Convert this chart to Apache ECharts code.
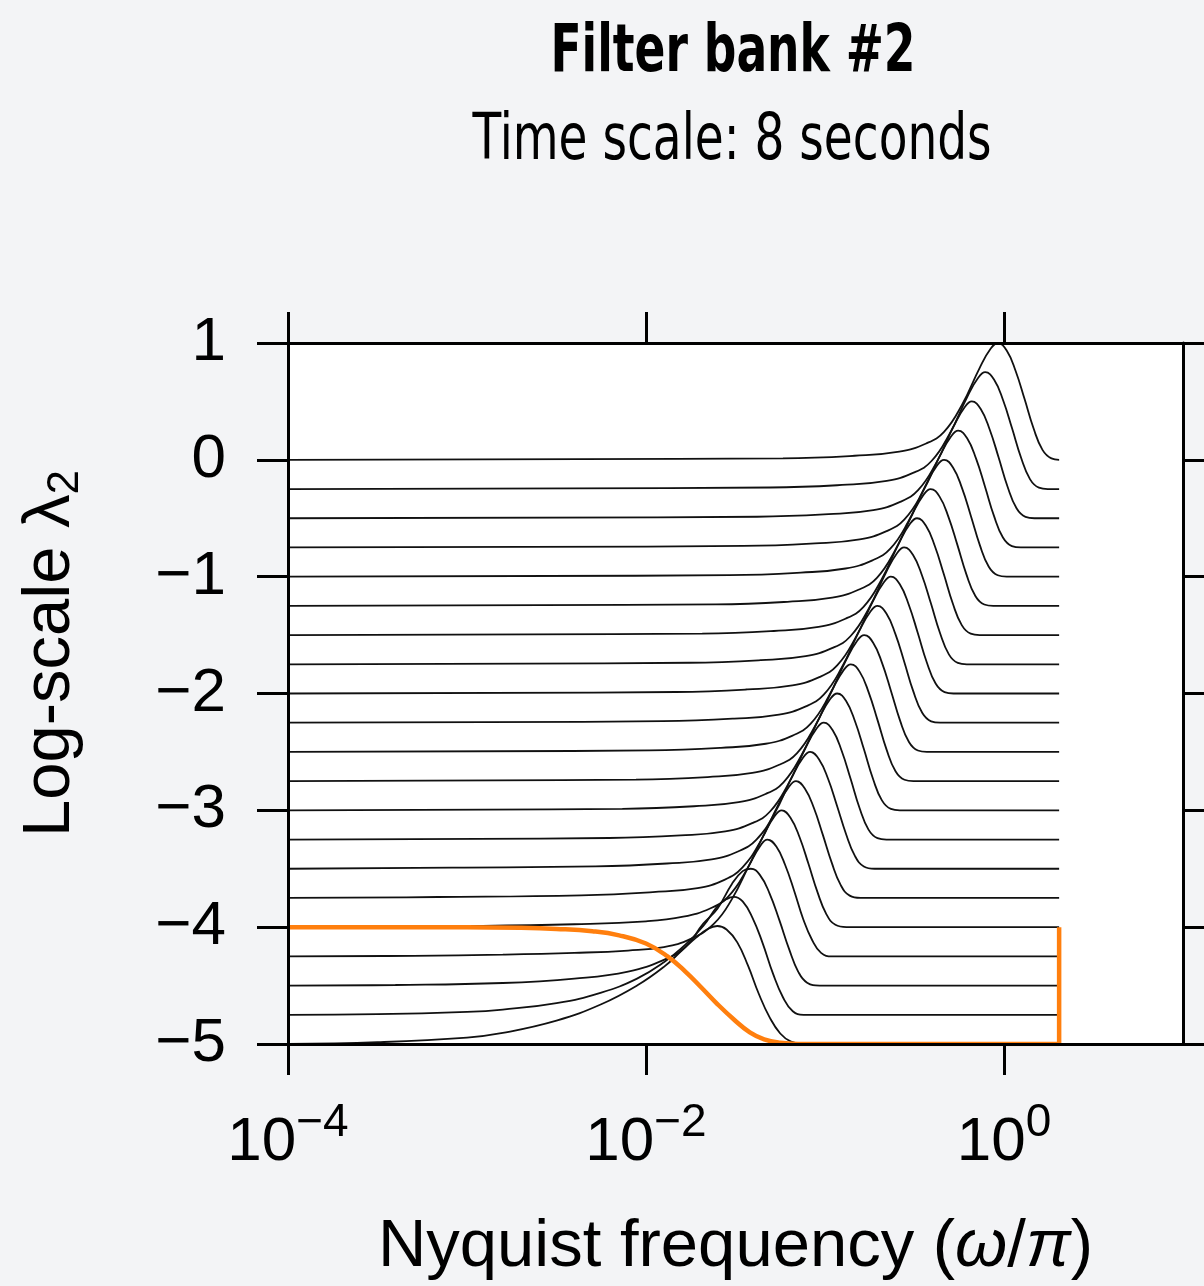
<!DOCTYPE html>
<html>
<head>
<meta charset="utf-8">
<script src="https://cdn.jsdelivr.net/npm/echarts@6/dist/echarts.min.js"></script>
<style>
  html, body { margin: 0; padding: 0; background: #f3f4f6; }
  #chart { width: 1204px; height: 1286px; }
</style>
</head>
<body>
<div id="chart"></div>
<script>
// points are [log10(ω/π), log-scale λ2]
const bank0 = [[-4,0],[-1.235,0.013],[-0.835,0.035],[-0.585,0.07],[-0.435,0.14],[-0.335,0.24],[-0.235,0.47],[-0.135,0.79],[-0.075,0.95],[-0.035,1],[0.015,0.935],[0.065,0.76],[0.115,0.52],[0.165,0.27],[0.215,0.085],[0.265,0.012],[0.308,0]];
const bank1 = [[-4,-0.25],[-1.305,-0.237],[-0.905,-0.215],[-0.655,-0.18],[-0.505,-0.11],[-0.405,-0.01],[-0.305,0.22],[-0.205,0.54],[-0.145,0.7],[-0.105,0.75],[-0.055,0.685],[-0.005,0.51],[0.045,0.27],[0.095,0.02],[0.145,-0.165],[0.195,-0.238],[0.245,-0.25],[0.308,-0.25]];
const bank2 = [[-4,-0.5],[-1.38,-0.487],[-0.98,-0.465],[-0.73,-0.43],[-0.58,-0.36],[-0.48,-0.26],[-0.38,-0.03],[-0.28,0.29],[-0.22,0.45],[-0.18,0.5],[-0.13,0.435],[-0.08,0.26],[-0.03,0.02],[0.02,-0.23],[0.07,-0.415],[0.12,-0.488],[0.17,-0.5],[0.308,-0.5]];
const bank3 = [[-4,-0.75],[-1.456,-0.737],[-1.056,-0.715],[-0.806,-0.68],[-0.656,-0.61],[-0.556,-0.51],[-0.456,-0.28],[-0.356,0.04],[-0.296,0.2],[-0.256,0.25],[-0.206,0.185],[-0.156,0.01],[-0.106,-0.23],[-0.056,-0.48],[-0.006,-0.665],[0.044,-0.738],[0.094,-0.75],[0.308,-0.75]];
const bank4 = [[-4,-1],[-1.535,-0.987],[-1.135,-0.965],[-0.885,-0.93],[-0.735,-0.86],[-0.635,-0.76],[-0.535,-0.53],[-0.435,-0.21],[-0.375,-0.05],[-0.335,0],[-0.285,-0.065],[-0.235,-0.24],[-0.185,-0.48],[-0.135,-0.73],[-0.085,-0.915],[-0.035,-0.988],[0.015,-1],[0.308,-1]];
const bank5 = [[-4,-1.25],[-1.61,-1.237],[-1.21,-1.215],[-0.96,-1.18],[-0.81,-1.11],[-0.71,-1.01],[-0.61,-0.78],[-0.51,-0.46],[-0.45,-0.3],[-0.41,-0.25],[-0.36,-0.315],[-0.31,-0.49],[-0.26,-0.73],[-0.21,-0.98],[-0.16,-1.165],[-0.11,-1.238],[-0.06,-1.25],[0.308,-1.25]];
const bank6 = [[-4,-1.5],[-1.686,-1.487],[-1.286,-1.465],[-1.036,-1.43],[-0.886,-1.36],[-0.786,-1.26],[-0.686,-1.03],[-0.586,-0.71],[-0.526,-0.55],[-0.486,-0.5],[-0.436,-0.565],[-0.386,-0.74],[-0.336,-0.98],[-0.286,-1.23],[-0.236,-1.415],[-0.186,-1.488],[-0.136,-1.5],[0.308,-1.5]];
const bank7 = [[-4,-1.75],[-1.758,-1.737],[-1.358,-1.715],[-1.108,-1.68],[-0.958,-1.61],[-0.858,-1.51],[-0.758,-1.28],[-0.658,-0.96],[-0.598,-0.8],[-0.558,-0.75],[-0.508,-0.815],[-0.458,-0.99],[-0.408,-1.23],[-0.358,-1.48],[-0.308,-1.665],[-0.258,-1.738],[-0.208,-1.75],[0.308,-1.75]];
const bank8 = [[-4,-2],[-1.832,-1.987],[-1.432,-1.965],[-1.182,-1.93],[-1.032,-1.86],[-0.932,-1.76],[-0.832,-1.53],[-0.732,-1.21],[-0.672,-1.05],[-0.632,-1],[-0.582,-1.065],[-0.532,-1.24],[-0.482,-1.48],[-0.432,-1.73],[-0.382,-1.915],[-0.332,-1.988],[-0.282,-2],[0.308,-2]];
const bank9 = [[-4,-2.25],[-1.907,-2.237],[-1.507,-2.215],[-1.257,-2.18],[-1.107,-2.11],[-1.007,-2.01],[-0.907,-1.78],[-0.807,-1.46],[-0.747,-1.3],[-0.707,-1.25],[-0.657,-1.315],[-0.607,-1.49],[-0.557,-1.73],[-0.507,-1.98],[-0.457,-2.165],[-0.407,-2.238],[-0.357,-2.25],[0.308,-2.25]];
const bank10 = [[-4,-2.5],[-1.981,-2.487],[-1.581,-2.465],[-1.331,-2.43],[-1.181,-2.36],[-1.081,-2.26],[-0.981,-2.03],[-0.881,-1.71],[-0.821,-1.55],[-0.781,-1.5],[-0.731,-1.565],[-0.681,-1.74],[-0.631,-1.98],[-0.581,-2.23],[-0.531,-2.415],[-0.481,-2.488],[-0.431,-2.5],[0.308,-2.5]];
const bank11 = [[-4,-2.75],[-2.056,-2.737],[-1.656,-2.715],[-1.406,-2.68],[-1.256,-2.61],[-1.156,-2.51],[-1.056,-2.28],[-0.956,-1.96],[-0.896,-1.8],[-0.856,-1.75],[-0.806,-1.815],[-0.756,-1.99],[-0.706,-2.23],[-0.656,-2.48],[-0.606,-2.665],[-0.556,-2.738],[-0.506,-2.75],[0.308,-2.75]];
const bank12 = [[-4,-3],[-2.132,-2.987],[-1.732,-2.965],[-1.482,-2.93],[-1.332,-2.86],[-1.232,-2.76],[-1.132,-2.53],[-1.032,-2.21],[-0.972,-2.05],[-0.932,-2],[-0.882,-2.065],[-0.832,-2.24],[-0.782,-2.48],[-0.732,-2.73],[-0.682,-2.915],[-0.632,-2.988],[-0.582,-3],[0.308,-3]];
const bank13 = [[-4,-3.25],[-2.207,-3.237],[-1.807,-3.215],[-1.557,-3.18],[-1.407,-3.11],[-1.307,-3.01],[-1.207,-2.78],[-1.107,-2.46],[-1.047,-2.3],[-1.007,-2.25],[-0.957,-2.315],[-0.907,-2.49],[-0.857,-2.73],[-0.807,-2.98],[-0.757,-3.165],[-0.707,-3.238],[-0.657,-3.25],[0.308,-3.25]];
const bank14 = [[-4,-3.5],[-3.083,-3.49],[-2.283,-3.48],[-1.883,-3.455],[-1.633,-3.42],[-1.483,-3.35],[-1.383,-3.25],[-1.283,-3.03],[-1.183,-2.71],[-1.123,-2.55],[-1.083,-2.5],[-1.033,-2.565],[-0.983,-2.73],[-0.933,-2.96],[-0.883,-3.2],[-0.833,-3.39],[-0.783,-3.48],[-0.723,-3.5],[0.308,-3.5]];
const bank15 = [[-4,-3.75],[-3.162,-3.742],[-2.362,-3.728],[-1.962,-3.7],[-1.712,-3.665],[-1.562,-3.595],[-1.462,-3.49],[-1.362,-3.27],[-1.262,-2.955],[-1.202,-2.8],[-1.162,-2.75],[-1.112,-2.815],[-1.062,-2.98],[-1.012,-3.21],[-0.962,-3.45],[-0.912,-3.64],[-0.862,-3.73],[-0.802,-3.75],[0.308,-3.75]];
const bank16 = [[-4,-4],[-3,-3.99],[-2.4,-3.975],[-2,-3.95],[-1.792,-3.91],[-1.642,-3.84],[-1.542,-3.74],[-1.442,-3.52],[-1.342,-3.21],[-1.282,-3.05],[-1.242,-3],[-1.192,-3.065],[-1.142,-3.23],[-1.092,-3.46],[-1.042,-3.7],[-0.992,-3.89],[-0.942,-3.98],[-0.88,-4],[0.308,-4]];
const bank17 = [[-4,-4.25],[-3.3,-4.245],[-2.8,-4.235],[-2.4,-4.22],[-2.1,-4.2],[-1.9,-4.17],[-1.75,-4.1],[-1.62,-3.97],[-1.52,-3.76],[-1.42,-3.46],[-1.36,-3.3],[-1.322,-3.25],[-1.272,-3.31],[-1.222,-3.47],[-1.172,-3.69],[-1.122,-3.93],[-1.072,-4.11],[-1.022,-4.22],[-0.96,-4.25],[0.308,-4.25]];
const bank18 = [[-4,-4.5],[-3.4,-4.495],[-2.8,-4.478],[-2.4,-4.44],[-2.1,-4.38],[-1.9,-4.28],[-1.78,-4.17],[-1.68,-3.97],[-1.6,-3.84],[-1.52,-3.63],[-1.46,-3.52],[-1.415,-3.5],[-1.365,-3.55],[-1.31,-3.71],[-1.255,-3.94],[-1.2,-4.19],[-1.15,-4.38],[-1.1,-4.475],[-1.03,-4.5],[0.308,-4.5]];
const bank19 = [[-4,-4.75],[-3.5,-4.745],[-3,-4.725],[-2.8,-4.705],[-2.5,-4.65],[-2.25,-4.56],[-2.05,-4.44],[-1.9,-4.3],[-1.78,-4.15],[-1.68,-3.99],[-1.6,-3.82],[-1.55,-3.76],[-1.509,-3.74],[-1.46,-3.78],[-1.405,-3.92],[-1.35,-4.13],[-1.29,-4.4],[-1.235,-4.6],[-1.18,-4.72],[-1.12,-4.75],[0.308,-4.75]];
const bank20 = [[-4,-5],[-3.5,-4.985],[-3,-4.945],[-2.8,-4.905],[-2.5,-4.8],[-2.25,-4.66],[-2.05,-4.5],[-1.9,-4.34],[-1.8,-4.2],[-1.72,-4.09],[-1.66,-4.02],[-1.602,-3.99],[-1.55,-4.02],[-1.49,-4.13],[-1.43,-4.33],[-1.37,-4.57],[-1.31,-4.77],[-1.25,-4.91],[-1.19,-4.98],[-1.12,-5],[0.308,-5]];

const orangeCurve = [[-4,-4],[-3,-4],[-2.7,-4.005],[-2.5,-4.015],[-2.3,-4.035],[-2.15,-4.07],[-2,-4.14],[-1.88,-4.25],[-1.78,-4.38],[-1.695,-4.51],[-1.6,-4.66],[-1.509,-4.79],[-1.42,-4.9],[-1.34,-4.96],[-1.25,-4.99],[-1.15,-5],[0.308,-5]];
const orangeEdge = [[0.308,-5],[0.308,-4]];

const blackCurves = [bank0, bank1, bank2, bank3, bank4, bank5, bank6, bank7, bank8, bank9, bank10,
  bank11, bank12, bank13, bank14, bank15, bank16, bank17, bank18, bank19, bank20];

const xTickExp = [-4, -2, 0];

const sans = '"Liberation Sans", Arial, Helvetica, sans-serif';
const titleFont = '"DejaVu Sans", sans-serif';

const toMinus = v => String(v).replace('-', '\u2212');

const axisLine = { show: true, onZero: false, lineStyle: { color: '#000', width: 3 } };
const tick = { show: true, length: 31, lineStyle: { color: '#000', width: 3 } };

let chart = echarts.init(document.getElementById('chart'));

let series = blackCurves.map((pts, i) => ({
  name: 'bank' + i,
  type: 'line',
  data: pts,
  showSymbol: false,
  smooth: 0.45,
  lineStyle: { color: '#111', width: 1.8 },
  z: 2
}));

series.push({
  name: 'orange',
  type: 'line',
  data: orangeCurve,
  showSymbol: false,
  smooth: 0.45,
  lineStyle: { color: '#ff7f0e', width: 4.5 },
  z: 3
});
series.push({
  name: 'orangeEdge',
  type: 'line',
  data: orangeEdge,
  showSymbol: false,
  lineStyle: { color: '#ff7f0e', width: 4.5 },
  z: 3
});

chart.setOption({
  animation: false,
  backgroundColor: '#f3f4f6',
  graphic: [{
    type: 'text',
    x: 733, y: 21,
    scaleX: 0.69,
    style: {
      text: 'Filter bank #2',
      fontFamily: titleFont, fontSize: 66, fontWeight: 'bold',
      fill: '#000', align: 'center', verticalAlign: 'top'
    }
  }, {
    type: 'text',
    x: 732, y: 110,
    scaleX: 0.735,
    style: {
      text: 'Time scale: 8 seconds',
      fontFamily: titleFont, fontSize: 64,
      fill: '#000', align: 'center', verticalAlign: 'top'
    }
  }],
  grid: {
    left: 288, right: 21, top: 343, bottom: 240,
    show: true, backgroundColor: '#ffffff', borderWidth: 0
  },
  xAxis: [{
    type: 'value',
    position: 'bottom',
    min: -4, max: 1,
    axisLine: axisLine,
    axisTick: Object.assign({ customValues: xTickExp }, tick),
    splitLine: { show: false },
    axisLabel: {
      customValues: xTickExp,
      margin: 56,
      formatter: v => '{b|10}{s|' + toMinus(v) + '}',
      rich: {
        b: { fontFamily: sans, fontSize: 62, color: '#000', lineHeight: 74, verticalAlign: 'bottom' },
        s: { fontFamily: sans, fontSize: 46, color: '#000', lineHeight: 60, verticalAlign: 'top' }
      }
    },
    name: '{n|Nyquist frequency (}{i|\u03c9}{n|/}{i|\u03c0}{n|)}',
    nameLocation: 'middle',
    nameGap: 170,
    nameTextStyle: {
      rich: {
        n: { fontFamily: sans, fontSize: 67, color: '#000' },
        i: { fontFamily: sans, fontSize: 67, color: '#000', fontStyle: 'italic' }
      }
    },
    z: 5
  }, {
    type: 'value',
    position: 'top',
    min: -4, max: 1,
    axisLine: axisLine,
    axisTick: Object.assign({ customValues: xTickExp }, tick),
    axisLabel: { show: false },
    splitLine: { show: false },
    z: 5
  }],
  yAxis: [{
    type: 'value',
    position: 'left',
    min: -5, max: 1, interval: 1,
    axisLine: axisLine,
    axisTick: tick,
    splitLine: { show: false },
    axisLabel: {
      margin: 62,
      fontFamily: sans, fontSize: 62, color: '#000',
      formatter: toMinus
    },
    name: '{a|Log-scale \u03bb}{b|2}',
    nameLocation: 'middle',
    nameGap: 200,
    nameTextStyle: {
      padding: [0, 0, 0, 80],
      rich: {
        a: { fontFamily: sans, fontSize: 67, color: '#000' },
        b: { fontFamily: sans, fontSize: 44, color: '#000', verticalAlign: 'bottom', padding: [30, 0, 0, 0] }
      }
    },
    z: 5
  }, {
    type: 'value',
    position: 'right',
    min: -5, max: 1, interval: 1,
    axisLine: axisLine,
    axisTick: tick,
    axisLabel: { show: false },
    splitLine: { show: false },
    z: 5
  }],
  series: series
});
</script>
</body>
</html>
